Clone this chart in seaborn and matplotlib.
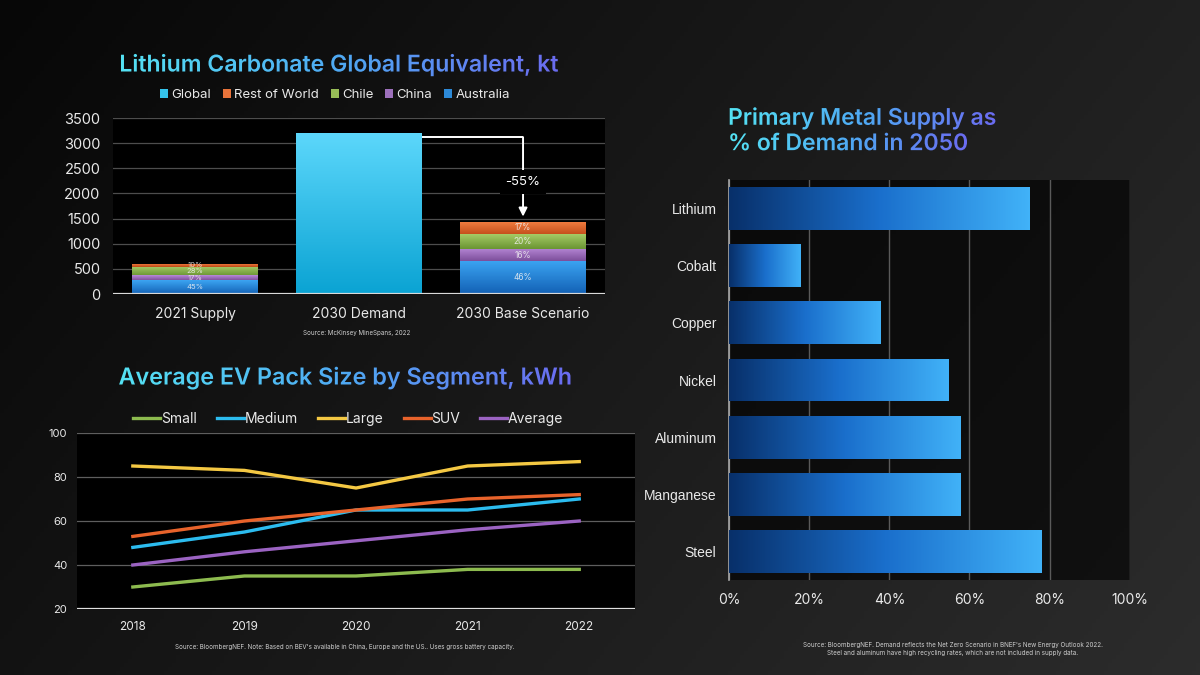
import numpy as np
import pandas as pd
import matplotlib
matplotlib.use("Agg")
import matplotlib.pyplot as plt
import seaborn as sns
from matplotlib import patheffects
from matplotlib.colors import LinearSegmentedColormap
from matplotlib.transforms import TransformedPath
from matplotlib.patches import Patch

# ---------------- data ----------------
lc_categories = ["2021 Supply", "2030 Demand", "2030 Base Scenario"]
lc_demand_2030 = 3200
lc_regions = ["Australia", "China", "Chile", "Rest of World"]
lc_supply_2021 = [270, 100, 170, 60]
lc_base_2030 = [650, 250, 290, 250]
lc_supply_2021_labels = ["45%", "17%", "28%", "10%"]
lc_base_2030_labels = ["46%", "16%", "20%", "17%"]
lc_yticks = [0, 500, 1000, 1500, 2000, 2500, 3000, 3500]
lc_legend = ["Global", "Rest of World", "Chile", "China", "Australia"]

ev_years = [2018, 2019, 2020, 2021, 2022]
ev_segments = ["Small", "Medium", "Large", "SUV", "Average"]
ev_small = [30, 35, 35, 38, 38]
ev_medium = [48, 55, 65, 65, 70]
ev_large = [85, 83, 75, 85, 87]
ev_suv = [53, 60, 65, 70, 72]
ev_average = [40, 46, 51, 56, 60]
ev_yticks = [20, 40, 60, 80, 100]

metals = ["Lithium", "Cobalt", "Copper", "Nickel", "Aluminum", "Manganese", "Steel"]
metal_supply_pct = [75, 18, 38, 55, 58, 58, 78]
metal_xticks = [0, 20, 40, 60, 80, 100]

# ---------------- style ----------------
FONT = ["Inter", "DejaVu Sans"]
ARIAL = ["Liberation Sans", "DejaVu Sans"]
plt.rcParams["font.family"] = FONT
TXT = "#e9e9e9"


class GradientFill(patheffects.AbstractPathEffect):
    """Fill a path (text glyphs or patch) with a linear gradient."""

    def __init__(self, colors, direction="h"):
        super().__init__()
        self.cmap = LinearSegmentedColormap.from_list("g", colors)
        self.direction = direction

    def draw_path(self, renderer, gc, tpath, affine, rgbFace=None):
        ext = tpath.get_extents(affine)
        x0, y0 = int(np.floor(ext.x0)), int(np.floor(ext.y0))
        W = max(int(np.ceil(ext.x1)) - x0, 1)
        H = max(int(np.ceil(ext.y1)) - y0, 1)
        if self.direction == "h":
            g = np.tile(np.linspace(0, 1, W), (H, 1))
        else:
            g = np.tile(np.linspace(0, 1, H)[:, None], (1, W))
        img = (self.cmap(g) * 255).astype(np.uint8)
        gc0 = renderer.new_gc()
        gc0.copy_properties(gc)
        gc0.set_clip_path(TransformedPath(tpath, affine))
        renderer.draw_image(gc0, x0, y0, img)
        gc0.restore()


TITLE_GRAD = ["#55e2f3", "#4fa9f3", "#6b6cf0"]

fig = plt.figure(figsize=(12, 6.75), dpi=100)
fig.patch.set_facecolor("#151515")

# background
bg = fig.add_axes([0, 0, 1, 1], zorder=-10)
bgx = np.linspace(0, 1, 300)
bgy = np.linspace(0, 1, 170)
BX, BY = np.meshgrid(bgx, bgy)
bg.imshow(0.55 * BX + 0.25 * (1 - BY), cmap=LinearSegmentedColormap.from_list("bg", ["#070707", "#2c2c2c"]),
          aspect="auto", extent=[0, 1, 0, 1], origin="lower", vmin=0, vmax=0.8)
bg.set_axis_off()

# ============ top-left: lithium carbonate ============
ax1 = fig.add_axes([0.0942, 0.5644, 0.41, 0.2607])
ax1.set_facecolor("black")
x = np.arange(len(lc_categories))
bw = 0.77
grad_cols = {
    "Global": ["#0aa3d3", "#5cd7fb"],
    "Australia": ["#1260b4", "#3aa2f0"],
    "China": ["#7a4c98", "#b384d3"],
    "Chile": ["#6b9634", "#a4c964"],
    "Rest of World": ["#c44e1b", "#f17d40"],
}
flat_cols = {"Global": "#35c4ec", "Rest of World": "#e8733a", "Chile": "#98bd57",
             "China": "#9d70bb", "Australia": "#2d8ad8"}

bars = ax1.bar([x[1]], [lc_demand_2030], width=bw, color=flat_cols["Global"], zorder=3)
for p in bars:
    p.set_path_effects([GradientFill(grad_cols["Global"], "v")])

bottoms = np.zeros(2)
stack_x = [x[0], x[2]]
for i, reg in enumerate(lc_regions):
    h = np.array([lc_supply_2021[i], lc_base_2030[i]], dtype=float)
    bs = ax1.bar(stack_x, h, bottom=bottoms, width=bw, color=flat_cols[reg], zorder=3)
    for p in bs:
        p.set_path_effects([GradientFill(grad_cols[reg], "v")])
    for j, (lab, fs) in enumerate(zip([lc_supply_2021_labels[i], lc_base_2030_labels[i]], [5.5, 6])):
        ax1.text(stack_x[j], bottoms[j] + h[j] / 2, lab, ha="center", va="center",
                 color="#f2f2f2", alpha=0.85, fontsize=fs, zorder=4)
    bottoms = bottoms + h

base_total = bottoms[1]
y_line = lc_demand_2030 - 80
y_tip = base_total + 100
ax1.plot([x[1] + bw / 2, x[2]], [y_line, y_line], color="white", lw=1.4, zorder=5,
         solid_capstyle="butt")
ax1.annotate("", xy=(x[2], y_tip), xytext=(x[2], y_line),
             arrowprops=dict(arrowstyle="-|>,head_length=0.5,head_width=0.25", color="white", lw=1.4,
                             shrinkA=0, shrinkB=0), zorder=5)
chg = base_total / lc_demand_2030 - 1
ax1.text(x[2], (y_line + y_tip) / 2 - 100, f"{chg * 100:.0f}%", ha="center", va="center",
         color="white", fontsize=9.5, zorder=6,
         bbox=dict(boxstyle="square,pad=0.45", fc="black", ec="none"))

ax1.set_xlim(-0.5, 2.5)
ax1.set_ylim(0, 3500)
ax1.set_yticks(lc_yticks)
ax1.set_xticks(x)
ax1.set_xticklabels(lc_categories)
ax1.grid(axis="y", color="#4d4d4d", lw=0.9)
ax1.grid(axis="x", visible=False)
ax1.set_axisbelow(True)
ax1.axhline(0, color="#d9d9d9", lw=1.6, zorder=4)
for s in ax1.spines.values():
    s.set_visible(False)
ax1.tick_params(axis="y", length=0, pad=9, labelsize=10.5, labelcolor=TXT)
ax1.tick_params(axis="x", length=0, pad=9, labelsize=10, labelcolor=TXT)

leg_handles = [Patch(facecolor=flat_cols[k], edgecolor="none") for k in lc_legend]
ax1.legend(leg_handles, lc_legend, loc="center", bbox_to_anchor=(0.451, 1.13), ncol=5,
           frameon=False, handlelength=0.6, handleheight=0.6, handletextpad=0.25,
           columnspacing=0.9, labelcolor=TXT, fontsize=9.5)

fig.text(0.2817, 0.9037, "Lithium Carbonate Global Equivalent, kt", ha="center", va="center",
         fontsize=16.6, fontweight="semibold", color="#4fa9f3",
         path_effects=[GradientFill(TITLE_GRAD, "h")])
fig.text(0.297, 0.507, "Source: McKinsey MineSpans, 2022", ha="center", va="center",
         fontsize=4.5, color="#cfcfcf")

# ============ bottom-left: EV pack size ============
ax2 = fig.add_axes([0.0642, 0.0978, 0.465, 0.2607])
ax2.set_facecolor("black")
ev_df = pd.DataFrame({
    "Year": ev_years * len(ev_segments),
    "kWh": ev_small + ev_medium + ev_large + ev_suv + ev_average,
    "Segment": np.repeat(ev_segments, len(ev_years)),
})
ev_palette = {"Small": "#8dbb4f", "Medium": "#2cbcef", "Large": "#f4c843",
              "SUV": "#e8632b", "Average": "#9b63c2"}
sns.lineplot(data=ev_df, x="Year", y="kWh", hue="Segment", hue_order=ev_segments,
             palette=ev_palette, linewidth=2.4, ax=ax2, zorder=3)
ax2.set_xlim(2017.5, 2022.5)
ax2.set_ylim(20, 100)
ax2.set_yticks(ev_yticks)
ax2.set_xticks(ev_years)
ax2.set_xlabel("")
ax2.set_ylabel("")
ax2.grid(axis="y", color="#5e5e5e", lw=0.9)
ax2.grid(axis="x", visible=False)
ax2.set_axisbelow(True)
ax2.axhline(20, color="#e0e0e0", lw=1.6, zorder=4)
for s in ax2.spines.values():
    s.set_visible(False)
ax2.tick_params(axis="y", length=0, pad=7, labelsize=8, labelcolor=TXT)
ax2.tick_params(axis="x", length=0, pad=9, labelsize=8.5, labelcolor=TXT)
sns.move_legend(ax2, "center", bbox_to_anchor=(0.486, 1.08), ncol=5, frameon=False, title=None,
                fontsize=10, handlelength=1.95, handletextpad=0.05, columnspacing=1.45,
                labelcolor=TXT)

fig.text(0.288, 0.44, "Average EV Pack Size by Segment, kWh", ha="center", va="center",
         fontsize=16.8, fontweight="semibold", color="#4fa9f3",
         path_effects=[GradientFill(TITLE_GRAD, "h")])
fig.text(0.2875, 0.0415,
         "Source: BloombergNEF. Note: Based on BEV's available in China, Europe and the US.. Uses gross battery capacity.",
         ha="center", va="center", fontsize=4.5, color="#cfcfcf")

# ============ right: primary metal supply ============
ax3 = fig.add_axes([0.6075, 0.1407, 0.334, 0.5926])
ax3.set_facecolor((0, 0, 0, 0.6))
sns.barplot(x=metal_supply_pct, y=metals, orient="h", width=0.75, color="#1f78d1", ax=ax3, zorder=3)
for p in ax3.patches:
    p.set_path_effects([GradientFill(["#08306a", "#1a6fcc", "#41b2f8"], "h")])
ax3.set_xlim(0, 100)
ax3.set_xticks(metal_xticks)
ax3.set_xticklabels([f"{v}%" for v in metal_xticks])
ax3.set_xlabel("")
ax3.set_ylabel("")
ax3.grid(axis="x", color="#5a5a5a", lw=1)
ax3.grid(axis="y", visible=False)
ax3.set_axisbelow(True)
for k, s in ax3.spines.items():
    s.set_visible(k == "left")
ax3.spines["left"].set_color("#a8a8a8")
ax3.spines["left"].set_linewidth(1.2)
ax3.tick_params(axis="y", length=0, pad=9, labelsize=10, labelcolor=TXT)
ax3.tick_params(axis="x", length=0, pad=9, labelsize=10, labelcolor=TXT)
for t in ax3.get_yticklabels():
    t.set_fontfamily(ARIAL)

fig.text(0.6067, 0.806, "Primary Metal Supply as\n% of Demand in 2050", ha="left", va="center",
         fontsize=16.5, fontweight="semibold", color="#4fa9f3", linespacing=1.2,
         path_effects=[GradientFill(TITLE_GRAD, "h")])
fig.text(0.794, 0.0385,
         "Source: BloombergNEF. Demand reflects the Net Zero Scenario in BNEF's New Energy Outlook 2022.\n"
         "Steel and aluminum have high recycling rates, which are not included in supply data.",
         ha="center", va="center", fontsize=4.5, color="#cfcfcf", linespacing=1.3)

fig.savefig("out.png", dpi=100, facecolor=fig.get_facecolor())
